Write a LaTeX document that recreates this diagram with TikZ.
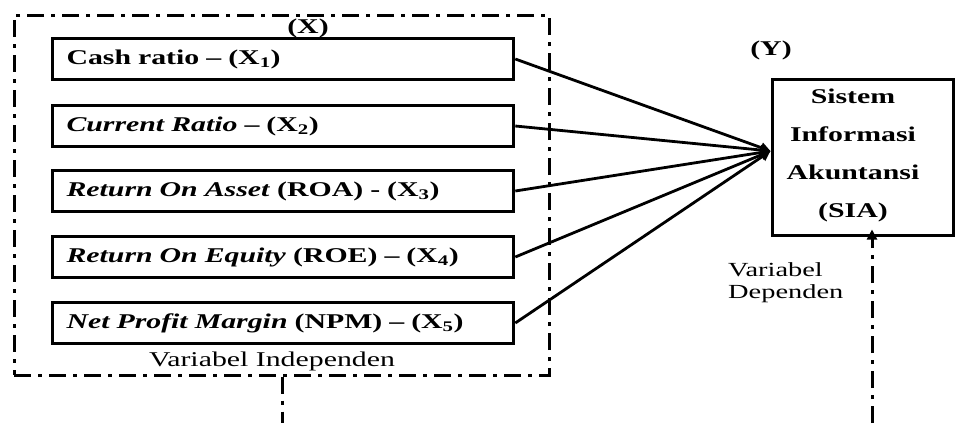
\documentclass[tikz,border=0pt]{standalone}
\usepackage{fontspec}
\setmainfont{Liberation Serif}[FakeStretch=1.42]
\usetikzlibrary{arrows.meta}
\begin{document}
\begin{tikzpicture}[x=1pt,y=-1pt,
  varbox/.style={draw,line width=3.6pt,minimum width=461pt,minimum height=41pt,
    text width=433pt,align=left,inner sep=0pt,font=\fontsize{21}{24}\selectfont\bfseries},
  dashdot/.style={line width=3pt,dash pattern=on 17pt off 7pt on 4pt off 7pt},
  link/.style={line width=2.8pt,-{Triangle[length=10pt,width=10pt]}},
  every node/.style={font=\fontsize{21}{24}\selectfont}]
\useasboundingbox (0,0) rectangle (955,423);

% independent variables frame
\node[draw,dashdot,minimum width=535pt,minimum height=360pt,inner sep=0pt] (frame) at (281.5,195) {};
\node[font=\fontsize{21}{24}\selectfont\bfseries] (xlab) at (308,28) {(X)};

\node[varbox] (x1) at (283,59)  {Cash ratio -- (X\textsubscript{1})};
\node[varbox] (x2) at (283,126) {\textit{Current Ratio} -- (X\textsubscript{2})};
\node[varbox] (x3) at (283,191) {\textit{Return On Asset} (ROA) - (X\textsubscript{3})};
\node[varbox] (x4) at (283,257) {\textit{Return On Equity} (ROE) -- (X\textsubscript{4})};
\node[varbox] (x5) at (283,323) {\textit{Net Profit Margin} (NPM) -- (X\textsubscript{5})};

\node (indep) at (272,361) {Variabel Independen};

% dependent variable
\node[font=\fontsize{21}{24}\selectfont\bfseries] (ylab) at (771,50) {(Y)};
\node[draw,line width=3pt,minimum width=181pt,minimum height=156pt,inner sep=0pt] (sia) at (862.5,157) {};
\node[align=center,font=\fontsize{21}{38}\selectfont\bfseries] (siatext) at (853,155)
  {Sistem\\Informasi\\Akuntansi\\(SIA)};
\node[align=left,anchor=north west,inner sep=0pt,font=\fontsize{20}{22}\selectfont] (dep) at (728,262)
  {Variabel\\Dependen};

\coordinate (hub) at ([yshift=6pt]sia.west);
\foreach \b in {x1,x2,x3,x4,x5}
  \draw[link] (\b.east) -- (hub);

% dash-dot stubs leaving the picture
\coordinate (stubL) at (282,423);
\coordinate (stubR) at (872,423);
\draw[dashdot] (frame.south -| stubL) -- (stubL);
\draw[dashdot,-{Triangle[length=10pt,width=10pt]}] (stubR) -- ([yshift=7pt]sia.south -| stubR);
\end{tikzpicture}
\end{document}
